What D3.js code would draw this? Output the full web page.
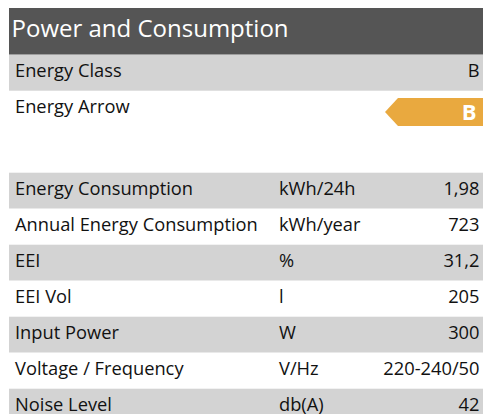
<!DOCTYPE html>
<html><head><meta charset="utf-8">
<script src="https://cdn.jsdelivr.net/npm/d3@7"></script>
<style>html,body{margin:0;padding:0;background:#fff;}svg{display:block;}</style>
</head><body>
<script>
const title = "Power and Consumption";
const classLabel = "Energy Class";
const classValue = "B";
const arrowLabel = "Energy Arrow";
const labels = ["Energy Consumption","Annual Energy Consumption","EEI","EEI Vol","Input Power","Voltage / Frequency","Noise Level"];
const units = ["kWh/24h","kWh/year","%","l","W","V/Hz","db(A)"];
const values = ["1,98","723","31,2","205","300","220-240/50","42"];

const W = 483, H = 414;
const svg = d3.select("body").append("svg").attr("width", W).attr("height", H);
const font = "'Open Sans', sans-serif";
const fs = 18.3;
const left = 9, right = 483, rowH = 36, textCol = "#111111";

// header
svg.append("rect").attr("x", left).attr("y", 8).attr("width", right-left).attr("height", 46.7).attr("fill", "#555555");
svg.append("text").attr("x", 11.5).attr("y", 36.7).attr("font-family", font).attr("font-size", 24)
  .attr("fill", "#ffffff").text(title);

// energy class row
svg.append("rect").attr("x", left).attr("y", 54.7).attr("width", right-left).attr("height", rowH).attr("fill", "#d3d3d3");
svg.append("text").attr("x", 15).attr("y", 77.3).attr("font-family", font).attr("font-size", fs).attr("fill", textCol).text(classLabel);
svg.append("text").attr("x", 479.5).attr("y", 77.3).attr("text-anchor","end").attr("font-family", font).attr("font-size", fs).attr("fill", textCol).text(classValue);

// arrow row
svg.append("text").attr("x", 15).attr("y", 113.3).attr("font-family", font).attr("font-size", fs).attr("fill", textCol).text(arrowLabel);
const ay0 = 98, ay1 = 126, ax0 = 385, ax1 = 483, tip = 13;
svg.append("path").attr("d", `M${ax0},${(ay0+ay1)/2} L${ax0+tip},${ay0} L${ax1},${ay0} L${ax1},${ay1} L${ax0+tip},${ay1} Z`)
  .attr("fill", "#e9a93f");
svg.append("text").attr("x", 476.5).attr("y", 120).attr("text-anchor","end").attr("font-family", font).attr("font-weight", "bold")
  .attr("font-size", 22).attr("fill", "#ffffff").text(classValue);

// table
const y = d3.scaleBand().domain(labels).range([172.7, 172.7 + rowH*labels.length]);
const rows = svg.selectAll("g.row").data(labels).join("g").attr("class","row")
  .attr("transform", d => `translate(0,${y(d)})`);
rows.append("rect").attr("x", left).attr("width", right-left).attr("height", y.bandwidth())
  .attr("fill", (d,i) => i % 2 === 0 ? "#d3d3d3" : "#ffffff");
rows.append("text").attr("x", 15).attr("y", 22.5).attr("font-family", font).attr("font-size", fs).attr("fill", textCol).text(d => d);
rows.append("text").attr("x", 279).attr("y", 22.5).attr("font-family", font).attr("font-size", fs).attr("fill", textCol).text((d,i) => units[i]);
rows.append("text").attr("x", 479.5).attr("y", 22.5).attr("text-anchor","end").attr("font-family", font).attr("font-size", fs).attr("fill", textCol).text((d,i) => values[i]);
</script>
</body></html>
